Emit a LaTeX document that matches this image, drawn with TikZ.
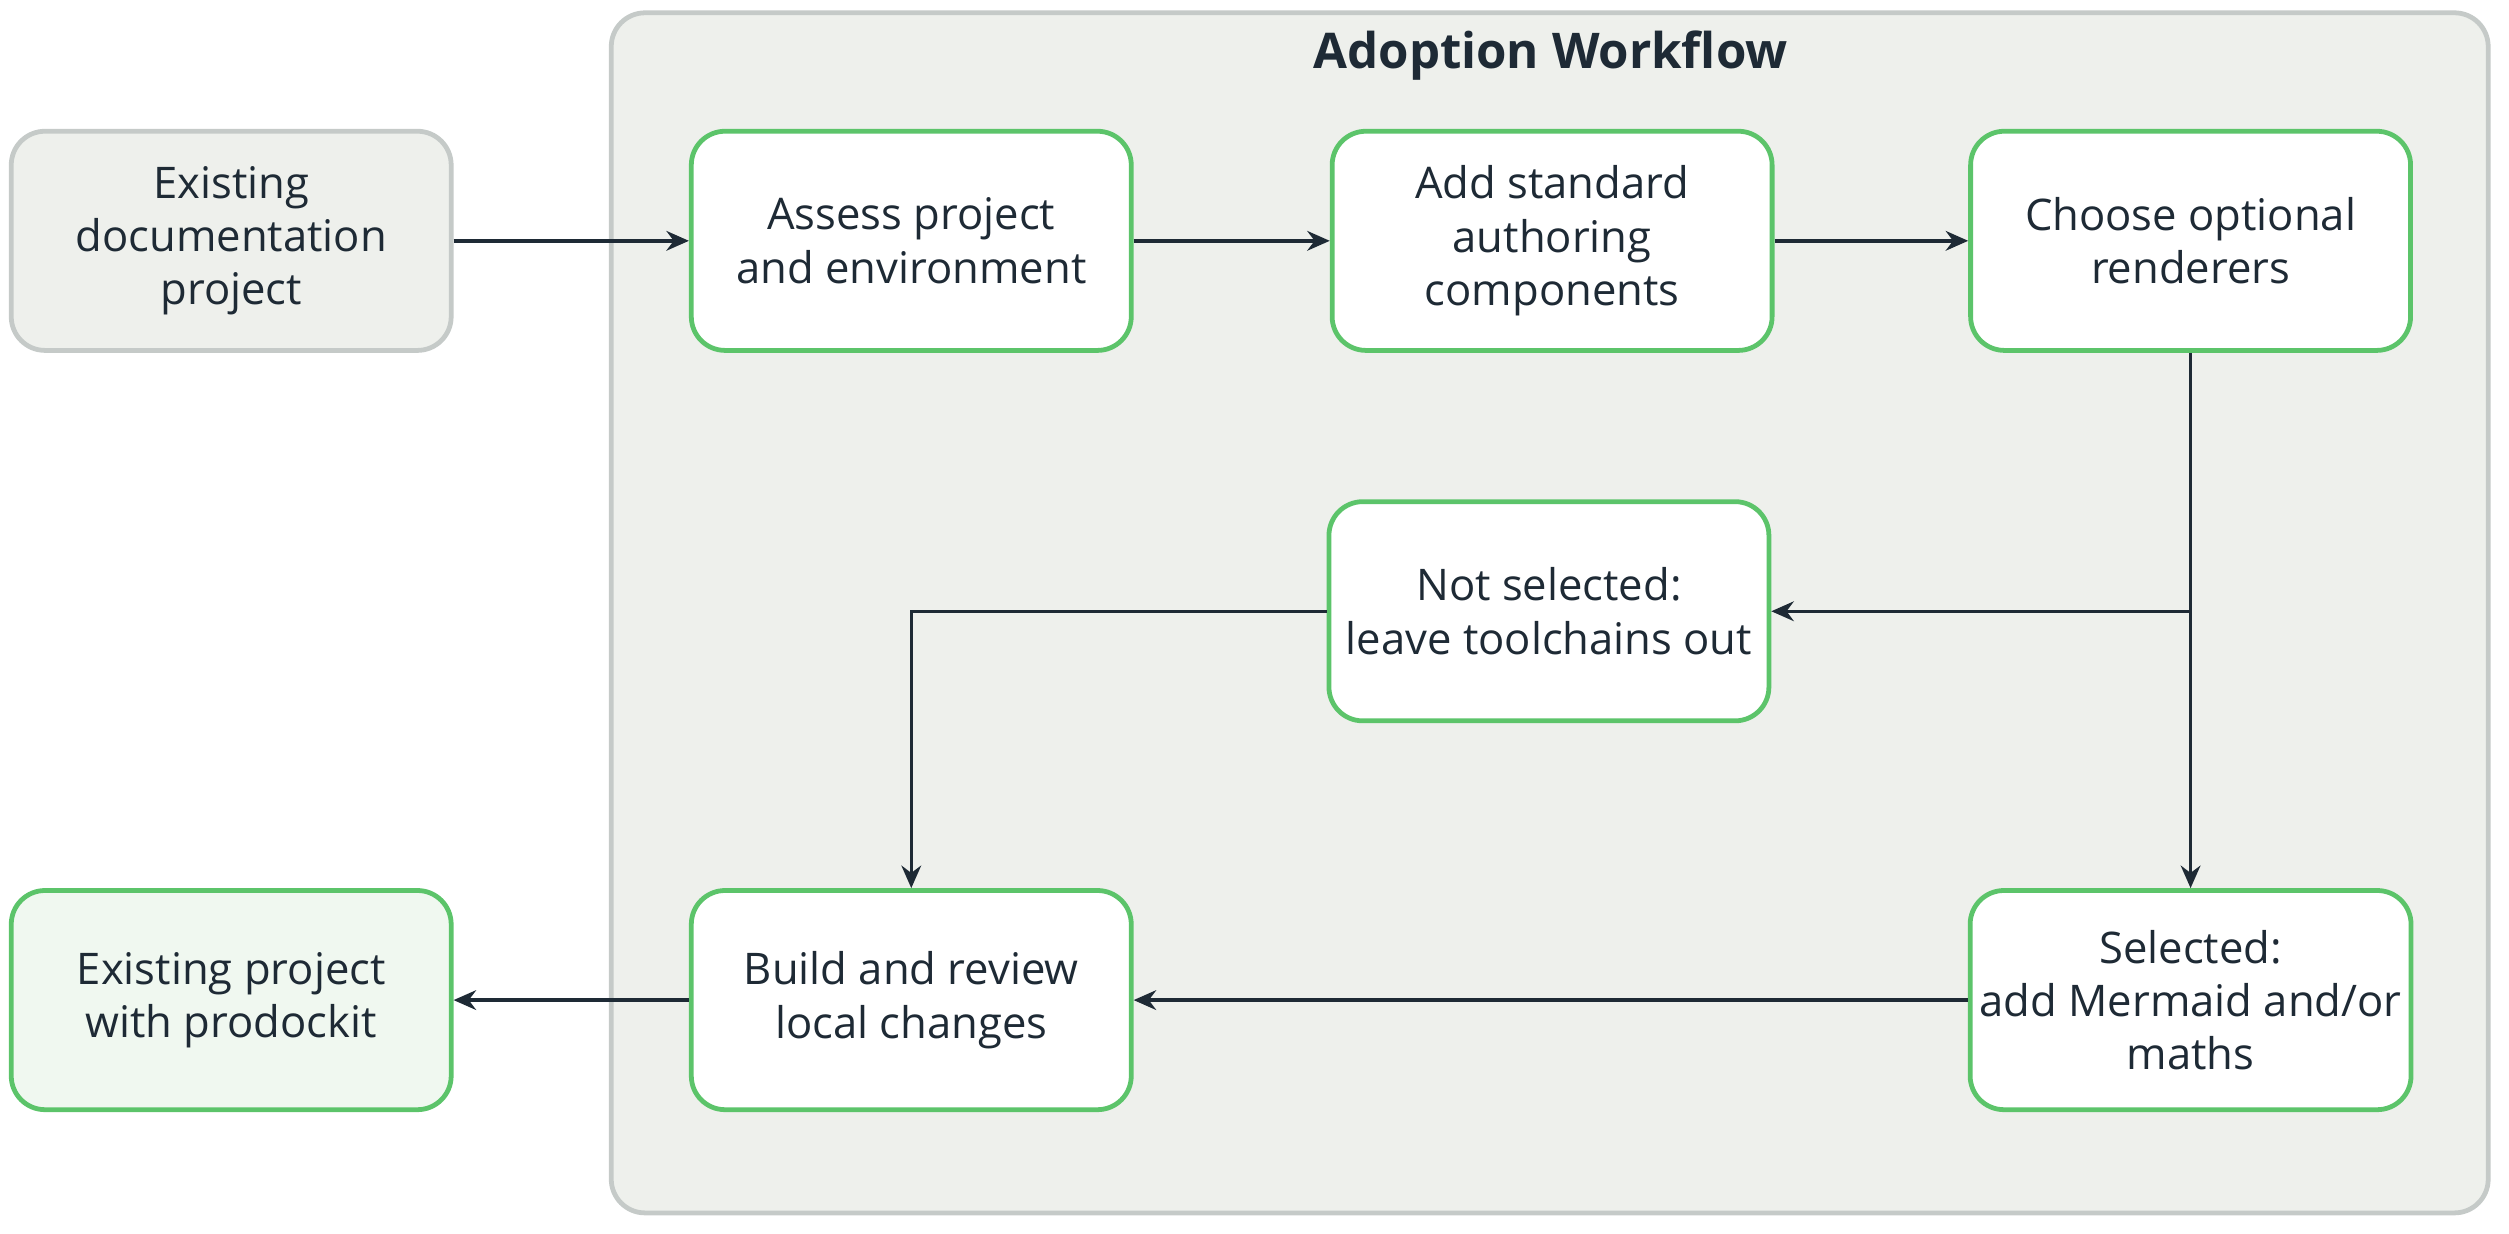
\documentclass[tikz,border=0pt]{standalone}
\usepackage{fontspec}
\setmainfont{Open Sans}
\usetikzlibrary{arrows.meta}
\definecolor{boxgreen}{HTML}{5CC46A}
\definecolor{boxgray}{HTML}{C5CAC8}
\definecolor{panel}{HTML}{EEF0EC}
\definecolor{ink}{HTML}{1E2A35}
\definecolor{donefill}{HTML}{F0F8F0}
\tikzset{
  stage/.style={draw=boxgreen, line width=1.7pt, fill=white, rounded corners=12pt,
    minimum width=5.5cm, minimum height=2.74cm, align=center, text=ink,
    font=\fontsize{15.5}{19}\selectfont},
  flow/.style={-{Stealth[length=8pt,width=7pt]}, draw=ink, line width=1.2pt},
}
\begin{document}
\begin{tikzpicture}[x=0.02cm,y=-0.02cm]
		\useasboundingbox (0,0) rectangle (1568,771);
		% container
		\draw [boxgray, fill=panel, line width=1.7pt, rounded corners=12pt] (382,8) rectangle (1555,758);
		\node [text=ink, font=\fontsize{17.5}{20}\selectfont\bfseries] (title) at (969,35) {Adoption Workflow};
		% stages
		\node [stage, draw=boxgray, fill=panel] (existing) at (144.5,150.5) {Existing\\documentation\\project};
		\node [stage] (assess) at (569.5,150.5) {Assess project\\and environment};
		\node [stage] (standard) at (970,150.5) {Add standard\\authoring\\components};
		\node [stage] (choose) at (1369,150.5) {Choose optional\\renderers};
		\node [stage] (notsel) at (968,382) {Not selected:\\leave toolchains out};
		\node [stage] (build) at (569.5,625) {Build and review\\local changes};
		\node [stage] (selected) at (1369,625) {Selected:\\add Mermaid and/or\\maths};
		\node [stage, fill=donefill] (result) at (144.5,625) {Existing project\\with prodockit};
		\coordinate (branch) at (1369,382);
		% connectors
		\draw [flow] (existing) -- (assess);
		\draw [flow] (assess) -- (standard);
		\draw [flow] (standard) -- (choose);
		\draw [flow] (choose) -- (selected);
		\draw [flow] (branch) -- (notsel);
		\draw [flow] (notsel.west) -| (build.north);
		\draw [flow] (selected) -- (build);
		\draw [flow] (build) -- (result);
	\end{tikzpicture}
\end{document}
